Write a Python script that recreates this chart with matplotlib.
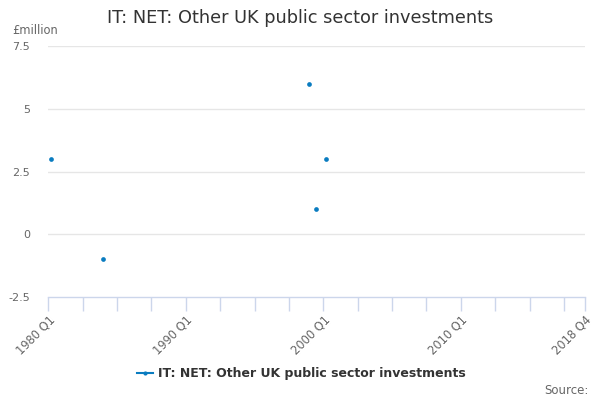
import numpy as np
import matplotlib
matplotlib.use('Agg')
import matplotlib.pyplot as plt

# categories: every quarter from 1980 Q1 to 2018 Q4
years = list(range(1980, 2019))
quarters = [f"{y} Q{q}" for y in years for q in range(1, 5)]

# observed values (all other quarters are empty)
point_quarters = ['1980 Q1', '1983 Q4', '1998 Q4', '1999 Q2', '2000 Q1']
point_values = [3, -1, 6, 1, 3]

y_ticks = [-2.5, 0, 2.5, 5, 7.5]
y_tick_labels = ['-2.5', '0', '2.5', '5', '7.5']
x_label_quarters = ['1980 Q1', '1990 Q1', '2000 Q1', '2010 Q1']

title = 'IT: NET: Other UK public sector investments'
series_name = 'IT: NET: Other UK public sector investments'

blue = '#0a7cc0'
grid_col = '#e6e6e6'
axis_col = '#ccd6eb'
text_col = '#666666'

values = np.full(len(quarters), np.nan)
for q, v in zip(point_quarters, point_values):
    values[quarters.index(q)] = v
xs = np.arange(len(quarters))

fig = plt.figure(figsize=(6, 4), dpi=100)
ax = fig.add_axes([48.35 / 600, 103 / 400, 536.25 / 600, 251 / 400])

ax.plot(xs + 0.4, values, color=blue, linewidth=1.5, marker='o', markersize=3.4,
        markeredgewidth=0, zorder=3)

ax.set_xlim(-0.5, len(quarters) - 0.5)
ax.set_ylim(-2.5, 7.5)

# gridlines
for y in y_ticks[1:]:
    ax.axhline(y, color=grid_col, linewidth=1, zorder=1)

for s in ['top', 'right', 'left']:
    ax.spines[s].set_visible(False)
ax.spines['bottom'].set_color(axis_col)
ax.spines['bottom'].set_linewidth(1)

ax.set_yticks(y_ticks)
ax.set_yticklabels(y_tick_labels, fontsize=8, color=text_col)
ax.tick_params(axis='y', length=0, pad=13)

# tick marks every 10 quarters at category boundaries, plus the end
tick_pos = [i - 0.5 for i in range(0, len(quarters), 10)] + [len(quarters) - 0.5]
ax.set_xticks(tick_pos)
labels = []
for p in tick_pos:
    idx = int(p + 0.5)
    if idx < len(quarters) and quarters[idx] in x_label_quarters:
        labels.append(quarters[idx])
    elif idx == len(quarters):
        labels.append(quarters[-1])
    else:
        labels.append('')
ax.set_xticklabels(labels, rotation=45, ha='right', rotation_mode='anchor',
                   fontsize=8.3, color=text_col)
ax.tick_params(axis='x', length=10, color=axis_col, width=1, pad=2)

fig.text(0.5, 1 - 18 / 400, title, ha='center', va='center', fontsize=12.8,
         color='#333333')
fig.text(12 / 600, 1 - 31 / 400, '£million', ha='left', va='center',
         fontsize=8.3, color=text_col)

# legend
fig.lines.append(plt.Line2D([137 / 600, 153 / 600], [1 - 373 / 400] * 2,
                            transform=fig.transFigure, color=blue, linewidth=1.5))
fig.lines.append(plt.Line2D([145 / 600], [1 - 373 / 400],
                            transform=fig.transFigure, color=blue,
                            marker='o', markersize=3, markeredgewidth=0))
fig.text(158 / 600, 1 - 373 / 400, series_name, ha='left', va='center',
         fontsize=9, fontweight='bold', color='#333333')
fig.text(589 / 600, 1 - 390 / 400, 'Source:', ha='right', va='center',
         fontsize=8.5, color=text_col)

fig.savefig('out.png', dpi=100)
